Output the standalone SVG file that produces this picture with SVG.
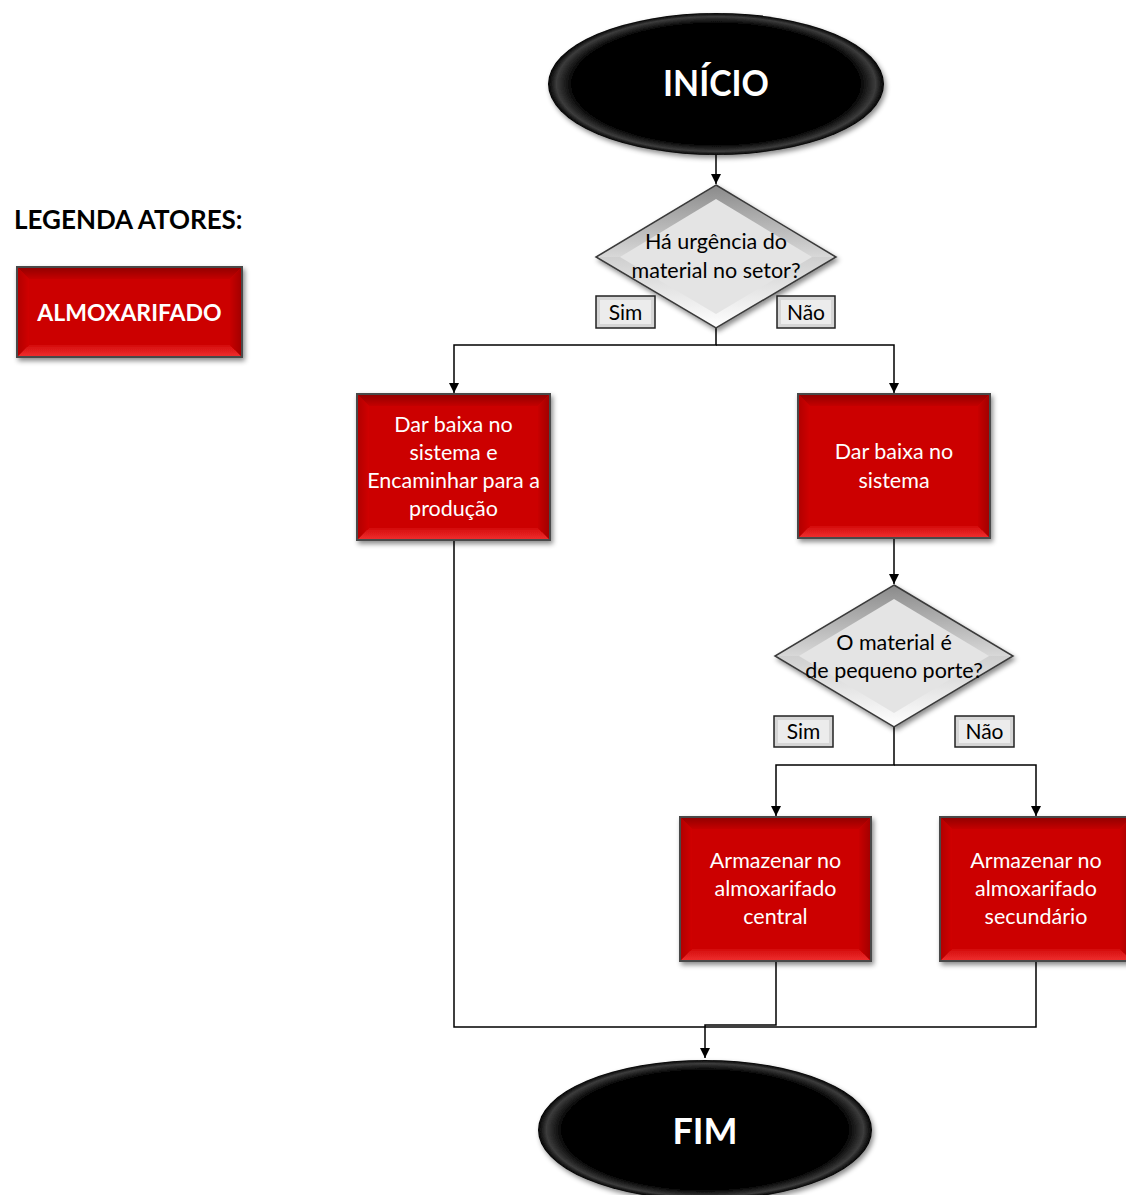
<svg xmlns="http://www.w3.org/2000/svg" width="1126" height="1195" viewBox="0 0 1126 1195">
  <defs>
    <style>
      .lbl { font-family: Lato, "Liberation Sans", sans-serif; }
      .wt { fill: #ffffff; font-size: 21.5px; text-anchor: middle; }
      .bk { fill: #000000; font-size: 21.5px; text-anchor: middle; }
      .tg { fill: #000000; font-size: 21px; text-anchor: middle; }
      .term { fill: #ffffff; font-size: 36px; font-weight: bold; text-anchor: middle; }
      .edge { fill: none; stroke: #000; stroke-width: 1.5; }
      .face { fill: #cc0000; }
      .bt { fill: url(#bevTop); }
      .bb { fill: url(#bevBot); }
      .bl { fill: url(#bevLeft); }
      .br { fill: url(#bevRight); }
      .frame { fill: none; stroke: #4a4a4a; stroke-width: 2; }
      .dface { fill: #e4e4e4; }
      .dtl { fill: url(#dTop); }
      .dbo { fill: url(#dBot); }
      .dframe { fill: none; stroke: #3a3a3a; stroke-width: 1.5; }
      .tag { fill: #d6d6d6; stroke: #222; stroke-width: 1.5; }
      .tagin { fill: #ececec; }
    </style>
    <linearGradient id="bevTop" x1="0" y1="0" x2="0" y2="1">
      <stop offset="0" stop-color="#900000"/>
      <stop offset="1" stop-color="#c40000"/>
    </linearGradient>
    <linearGradient id="bevBot" x1="0" y1="1" x2="0" y2="0">
      <stop offset="0" stop-color="#f03030"/>
      <stop offset="1" stop-color="#d40c0c"/>
    </linearGradient>
    <linearGradient id="bevLeft" x1="0" y1="0" x2="1" y2="0">
      <stop offset="0" stop-color="#b00000"/>
      <stop offset="1" stop-color="#d00606"/>
    </linearGradient>
    <linearGradient id="bevRight" x1="1" y1="0" x2="0" y2="0">
      <stop offset="0" stop-color="#a00000"/>
      <stop offset="1" stop-color="#c80000"/>
    </linearGradient>
    <linearGradient id="dTop" x1="0" y1="0" x2="0" y2="1">
      <stop offset="0" stop-color="#8a8a8a"/>
      <stop offset="1" stop-color="#d8d8d8"/>
    </linearGradient>
    <linearGradient id="dBot" x1="0" y1="1" x2="0" y2="0">
      <stop offset="0" stop-color="#ffffff"/>
      <stop offset="1" stop-color="#cfcfcf"/>
    </linearGradient>
    <radialGradient id="oval" cx="0.5" cy="0.5" r="0.5">
      <stop offset="0" stop-color="#000"/>
      <stop offset="0.86" stop-color="#050505"/>
      <stop offset="0.95" stop-color="#3c3c3c"/>
      <stop offset="1" stop-color="#000"/>
    </radialGradient>
    <filter id="shadow" x="-10%" y="-10%" width="125%" height="130%">
      <feDropShadow dx="2" dy="3" stdDeviation="2.5" flood-color="#000" flood-opacity="0.45"/>
    </filter>
    <marker id="arrow" viewBox="0 0 10 10" refX="10" refY="5" markerWidth="11" markerHeight="10" markerUnits="userSpaceOnUse" orient="auto">
      <path d="M0,0 L10,5 L0,10 z" fill="#000"/>
    </marker>
  </defs>

  <!-- legend -->
  <g id="legend">
    <text class="lbl" x="14" y="229" font-size="26" font-weight="bold" fill="#000">LEGENDA ATORES:</text>
    <g filter="url(#shadow)">
      <rect class="face" x="17" y="267" width="225" height="90"/>
      <polygon class="bt" points="17,267 242,267 230,279 29,279"/>
      <polygon class="bb" points="17,357 242,357 230,345 29,345"/>
      <polygon class="bl" points="17,267 29,279 29,345 17,357"/>
      <polygon class="br" points="242,267 230,279 230,345 242,357"/>
      <rect class="frame" x="17" y="267" width="225" height="90"/>
    </g>
    <text class="lbl" x="129.5" y="321" font-size="23" font-weight="bold" fill="#fff" text-anchor="middle">ALMOXARIFADO</text>
  </g>

  <!-- connectors -->
  <g id="connectors">
    <path class="edge" d="M716,155 V184" marker-end="url(#arrow)"/>
    <path class="edge" d="M716,328 V345 H454 V393" marker-end="url(#arrow)"/>
    <path class="edge" d="M716,345 H894 V393" marker-end="url(#arrow)"/>
    <path class="edge" d="M894,538 V584" marker-end="url(#arrow)"/>
    <path class="edge" d="M894,727 V765 H776 V816" marker-end="url(#arrow)"/>
    <path class="edge" d="M894,765 H1036 V816" marker-end="url(#arrow)"/>
    <path class="edge" d="M454,540 V1027 H1036 V961"/>
    <path class="edge" d="M776,961 V1025 H705 V1058" marker-end="url(#arrow)"/>
  </g>

  <!-- start -->
  <g id="inicio">
    <ellipse cx="716" cy="84" rx="168" ry="71" fill="url(#oval)" filter="url(#shadow)"/>
    <text class="lbl term" x="716" y="96" textLength="106" lengthAdjust="spacingAndGlyphs">INÍCIO</text>
  </g>

  <!-- decision: urgency -->
  <g id="decisao-urgencia">
    <g filter="url(#shadow)">
      <polygon class="dface" points="716,185 836,257 716,328 596,257"/>
      <polygon class="dtl" points="716,185 596,257 620,257 716,199"/>
      <polygon class="dtl" points="716,185 836,257 812,257 716,199"/>
      <polygon class="dbo" points="596,257 716,328 716,314 620,257"/>
      <polygon class="dbo" points="836,257 716,328 716,314 812,257"/>
      <polygon class="dframe" points="716,185 836,257 716,328 596,257"/>
    </g>
    <text class="lbl bk" x="716" y="249">Há urgência do</text>
    <text class="lbl bk" x="716" y="278">material no setor?</text>
  </g>

  <g id="sim-1">
    <rect class="tag" x="596" y="296" width="59" height="32"/>
    <rect class="tagin" x="600" y="300" width="51" height="24"/>
    <text class="lbl tg" x="625.5" y="320">Sim</text>
  </g>
  <g id="nao-1">
    <rect class="tag" x="777" y="296" width="58" height="32"/>
    <rect class="tagin" x="781" y="300" width="50" height="24"/>
    <text class="lbl tg" x="806" y="320">Não</text>
  </g>

  <!-- task: release and forward -->
  <g id="baixa-encaminhar">
    <g filter="url(#shadow)">
      <rect class="face" x="357" y="394" width="193" height="146"/>
      <polygon class="bt" points="357,394 550,394 538,406 369,406"/>
      <polygon class="bb" points="357,540 550,540 538,528 369,528"/>
      <polygon class="bl" points="357,394 369,406 369,528 357,540"/>
      <polygon class="br" points="550,394 538,406 538,528 550,540"/>
      <rect class="frame" x="357" y="394" width="193" height="146"/>
    </g>
    <text class="lbl wt" x="453.5" y="432">Dar baixa no</text>
    <text class="lbl wt" x="453.5" y="460">sistema e</text>
    <text class="lbl wt" x="453.5" y="488">Encaminhar para a</text>
    <text class="lbl wt" x="453.5" y="516">produção</text>
  </g>

  <!-- task: release -->
  <g id="baixa-sistema">
    <g filter="url(#shadow)">
      <rect class="face" x="798" y="394" width="192" height="144"/>
      <polygon class="bt" points="798,394 990,394 978,406 810,406"/>
      <polygon class="bb" points="798,538 990,538 978,526 810,526"/>
      <polygon class="bl" points="798,394 810,406 810,526 798,538"/>
      <polygon class="br" points="990,394 978,406 978,526 990,538"/>
      <rect class="frame" x="798" y="394" width="192" height="144"/>
    </g>
    <text class="lbl wt" x="894" y="459">Dar baixa no</text>
    <text class="lbl wt" x="894" y="488">sistema</text>
  </g>

  <!-- decision: size -->
  <g id="decisao-porte">
    <g filter="url(#shadow)">
      <polygon class="dface" points="894,585 1013,656 894,727 775,656"/>
      <polygon class="dtl" points="894,585 775,656 799,656 894,599"/>
      <polygon class="dtl" points="894,585 1013,656 989,656 894,599"/>
      <polygon class="dbo" points="775,656 894,727 894,713 799,656"/>
      <polygon class="dbo" points="1013,656 894,727 894,713 989,656"/>
      <polygon class="dframe" points="894,585 1013,656 894,727 775,656"/>
    </g>
    <text class="lbl bk" x="894" y="650">O material é</text>
    <text class="lbl bk" x="894" y="678">de pequeno porte?</text>
  </g>

  <g id="sim-2">
    <rect class="tag" x="774" y="716" width="59" height="31"/>
    <rect class="tagin" x="778" y="720" width="51" height="23"/>
    <text class="lbl tg" x="803.5" y="739">Sim</text>
  </g>
  <g id="nao-2">
    <rect class="tag" x="955" y="716" width="59" height="31"/>
    <rect class="tagin" x="959" y="720" width="51" height="23"/>
    <text class="lbl tg" x="984.5" y="739">Não</text>
  </g>

  <!-- task: central storage -->
  <g id="armazenar-central">
    <g filter="url(#shadow)">
      <rect class="face" x="680" y="817" width="191" height="144"/>
      <polygon class="bt" points="680,817 871,817 859,829 692,829"/>
      <polygon class="bb" points="680,961 871,961 859,949 692,949"/>
      <polygon class="bl" points="680,817 692,829 692,949 680,961"/>
      <polygon class="br" points="871,817 859,829 859,949 871,961"/>
      <rect class="frame" x="680" y="817" width="191" height="144"/>
    </g>
    <text class="lbl wt" x="775.5" y="868">Armazenar no</text>
    <text class="lbl wt" x="775.5" y="896">almoxarifado</text>
    <text class="lbl wt" x="775.5" y="924">central</text>
  </g>

  <!-- task: secondary storage -->
  <g id="armazenar-secundario">
    <g filter="url(#shadow)">
      <rect class="face" x="940" y="817" width="192" height="144"/>
      <polygon class="bt" points="940,817 1132,817 1120,829 952,829"/>
      <polygon class="bb" points="940,961 1132,961 1120,949 952,949"/>
      <polygon class="bl" points="940,817 952,829 952,949 940,961"/>
      <polygon class="br" points="1132,817 1120,829 1120,949 1132,961"/>
      <rect class="frame" x="940" y="817" width="192" height="144"/>
    </g>
    <text class="lbl wt" x="1036" y="868">Armazenar no</text>
    <text class="lbl wt" x="1036" y="896">almoxarifado</text>
    <text class="lbl wt" x="1036" y="924">secundário</text>
  </g>

  <!-- end -->
  <g id="fim">
    <ellipse cx="705" cy="1130" rx="167" ry="70" fill="url(#oval)" filter="url(#shadow)"/>
    <text class="lbl term" x="705" y="1144">FIM</text>
  </g>
</svg>
